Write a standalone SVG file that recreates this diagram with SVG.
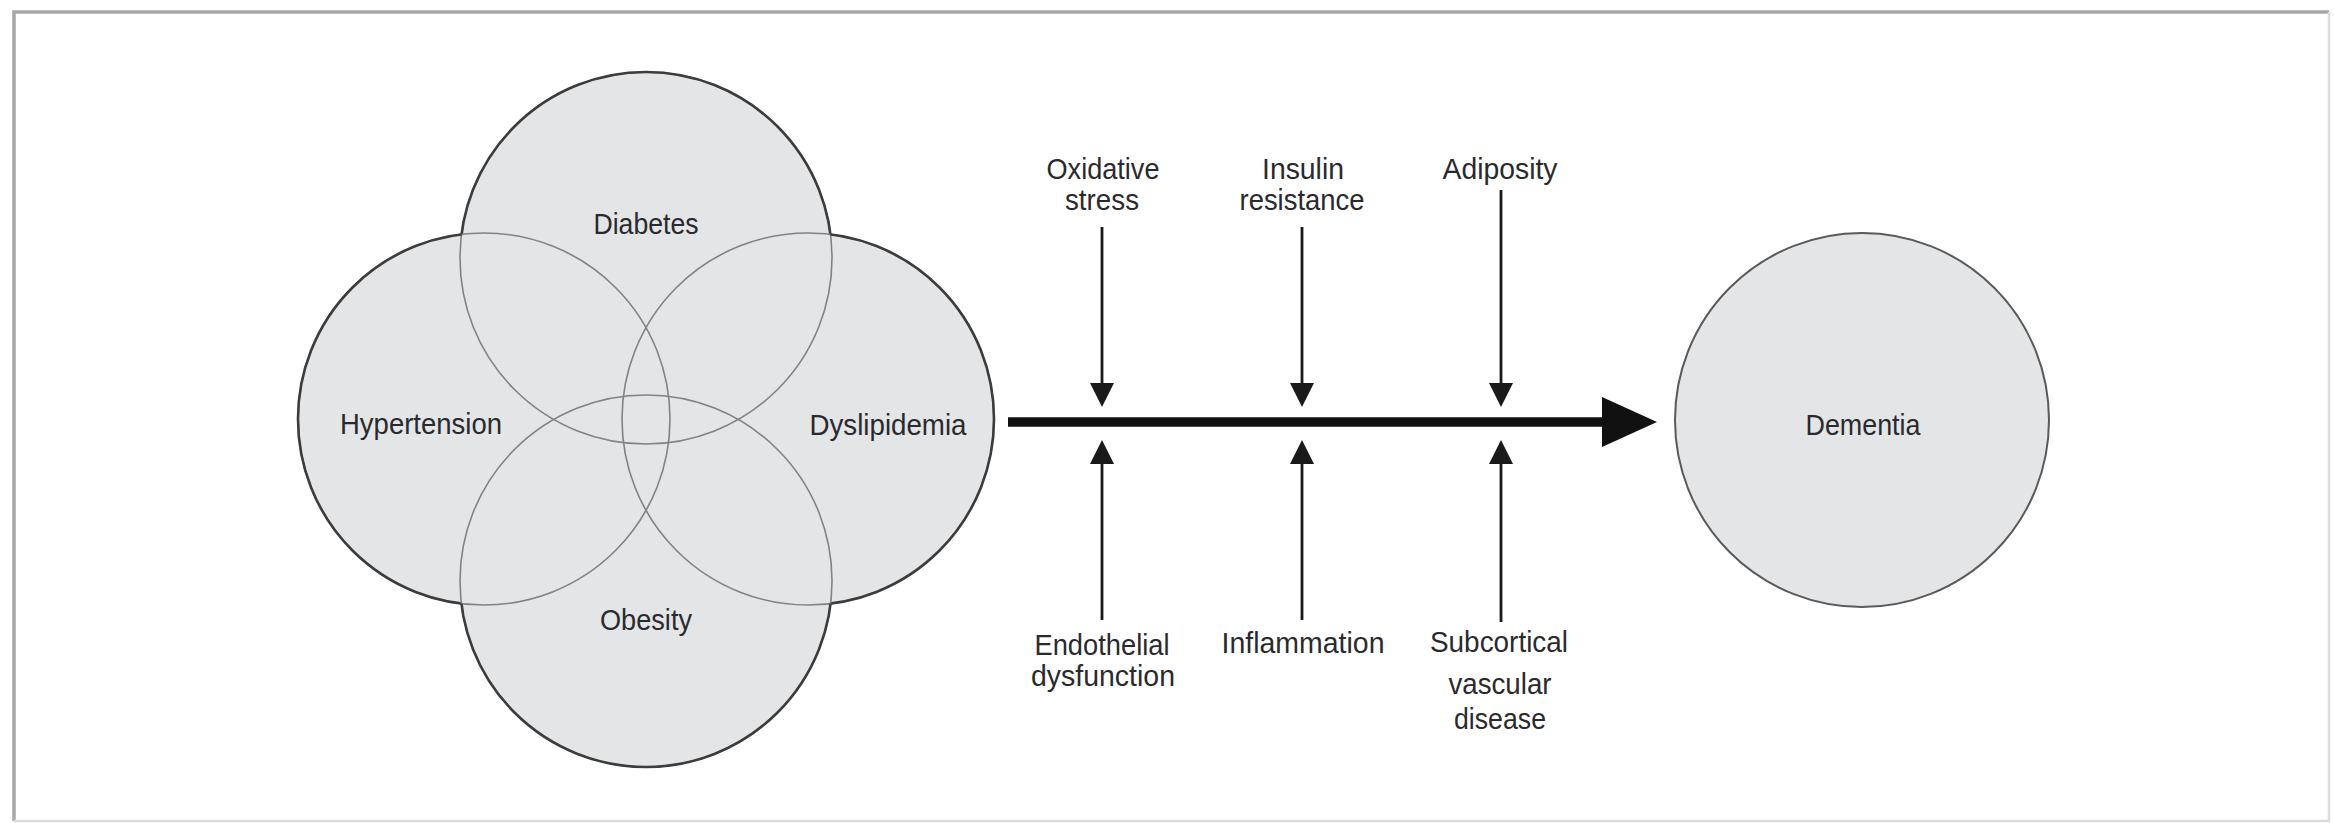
<svg xmlns="http://www.w3.org/2000/svg" width="2334" height="823" viewBox="0 0 2334 823">
<style>
.lbl{font-family:"Liberation Sans",Arial,sans-serif;font-size:29px;fill:#2a2a2e;text-anchor:middle}
.vfill{fill:#e3e5e7;stroke:none}
.vin{fill:none;stroke:#808285;stroke-width:1.6}
.vout{fill:none;stroke:#3c3c3c;stroke-width:2.6}
.arr{stroke:#1a1a1a;stroke-width:2.8;fill:none}
</style>
<defs>
<marker id="ah" markerWidth="24" markerHeight="24" refX="12" refY="12" orient="auto" markerUnits="userSpaceOnUse">
<path d="M0,0 L24,12 L0,24 z" fill="#1a1a1a"/>
</marker>
<mask id="mD"><rect width="2334" height="823" fill="#fff"/><circle cx="484" cy="419" r="186" fill="#000"/><circle cx="808" cy="419" r="186" fill="#000"/><circle cx="646" cy="581" r="186" fill="#000"/></mask>
<mask id="mH"><rect width="2334" height="823" fill="#fff"/><circle cx="646" cy="258" r="186" fill="#000"/><circle cx="808" cy="419" r="186" fill="#000"/><circle cx="646" cy="581" r="186" fill="#000"/></mask>
<mask id="mY"><rect width="2334" height="823" fill="#fff"/><circle cx="646" cy="258" r="186" fill="#000"/><circle cx="484" cy="419" r="186" fill="#000"/><circle cx="646" cy="581" r="186" fill="#000"/></mask>
<mask id="mO"><rect width="2334" height="823" fill="#fff"/><circle cx="646" cy="258" r="186" fill="#000"/><circle cx="484" cy="419" r="186" fill="#000"/><circle cx="808" cy="419" r="186" fill="#000"/></mask>
</defs>
<rect width="2334" height="823" fill="#fff"/>
<g id="frame">
<path d="M14,821 L14,12 L2329,12" fill="none" stroke="#a8a8a8" stroke-width="3.5"/>
<path d="M2329,12 L2329,821 L14,821" fill="none" stroke="#dcdcdc" stroke-width="2.5"/>
</g>
<g id="venn-background">
<circle class="vfill" cx="646" cy="258" r="186"/>
<circle class="vfill" cx="484" cy="419" r="186"/>
<circle class="vfill" cx="808" cy="419" r="186"/>
<circle class="vfill" cx="646" cy="581" r="186"/>
</g>
<g id="diabetes">
<circle class="vin" cx="646" cy="258" r="186"/>
<circle class="vout" cx="646" cy="258" r="186" mask="url(#mD)"/>
<text class="lbl" x="646" y="234" textLength="105" lengthAdjust="spacingAndGlyphs">Diabetes</text>
</g>
<g id="hypertension">
<circle class="vin" cx="484" cy="419" r="186"/>
<circle class="vout" cx="484" cy="419" r="186" mask="url(#mH)"/>
<text class="lbl" x="421" y="434" textLength="162" lengthAdjust="spacingAndGlyphs">Hypertension</text>
</g>
<g id="dyslipidemia">
<circle class="vin" cx="808" cy="419" r="186"/>
<circle class="vout" cx="808" cy="419" r="186" mask="url(#mY)"/>
<text class="lbl" x="888" y="435" textLength="157" lengthAdjust="spacingAndGlyphs">Dyslipidemia</text>
</g>
<g id="obesity">
<circle class="vin" cx="646" cy="581" r="186"/>
<circle class="vout" cx="646" cy="581" r="186" mask="url(#mO)"/>
<text class="lbl" x="646" y="630" textLength="92" lengthAdjust="spacingAndGlyphs">Obesity</text>
</g>
<g id="dementia">
<circle cx="1862" cy="420" r="187" fill="#e3e5e7" stroke="#5a5a5a" stroke-width="2"/>
<text class="lbl" x="1863" y="435" textLength="115" lengthAdjust="spacingAndGlyphs">Dementia</text>
</g>
<g id="oxidative-stress">
<text class="lbl" x="1103" y="179" textLength="113" lengthAdjust="spacingAndGlyphs">Oxidative</text>
<text class="lbl" x="1102" y="210" textLength="74" lengthAdjust="spacingAndGlyphs">stress</text>
</g>
<g id="insulin-resistance">
<text class="lbl" x="1303" y="179" textLength="82" lengthAdjust="spacingAndGlyphs">Insulin</text>
<text class="lbl" x="1302" y="210" textLength="125" lengthAdjust="spacingAndGlyphs">resistance</text>
</g>
<g id="adiposity">
<text class="lbl" x="1500" y="179" textLength="115" lengthAdjust="spacingAndGlyphs">Adiposity</text>
</g>
<g id="endothelial-dysfunction">
<text class="lbl" x="1102" y="655" textLength="135" lengthAdjust="spacingAndGlyphs">Endothelial</text>
<text class="lbl" x="1103" y="686" textLength="144" lengthAdjust="spacingAndGlyphs">dysfunction</text>
</g>
<g id="inflammation">
<text class="lbl" x="1303" y="653" textLength="163" lengthAdjust="spacingAndGlyphs">Inflammation</text>
</g>
<g id="subcortical-vascular-disease">
<text class="lbl" x="1499" y="652" textLength="138" lengthAdjust="spacingAndGlyphs">Subcortical</text>
<text class="lbl" x="1500" y="694" textLength="103" lengthAdjust="spacingAndGlyphs">vascular</text>
<text class="lbl" x="1500" y="729" textLength="92" lengthAdjust="spacingAndGlyphs">disease</text>
</g>
<g id="connectors">
<line x1="1008" y1="422" x2="1606" y2="422" stroke="#111" stroke-width="9.5"/>
<polygon points="1602,397 1657,422 1602,447" fill="#111"/>
<line class="arr" x1="1102" y1="227" x2="1102" y2="395" marker-end="url(#ah)"/>
<line class="arr" x1="1302" y1="227" x2="1302" y2="395" marker-end="url(#ah)"/>
<line class="arr" x1="1501" y1="190" x2="1501" y2="395" marker-end="url(#ah)"/>
<line class="arr" x1="1102" y1="620" x2="1102" y2="452" marker-end="url(#ah)"/>
<line class="arr" x1="1302" y1="620" x2="1302" y2="452" marker-end="url(#ah)"/>
<line class="arr" x1="1501" y1="622" x2="1501" y2="452" marker-end="url(#ah)"/>
</g>
</svg>
